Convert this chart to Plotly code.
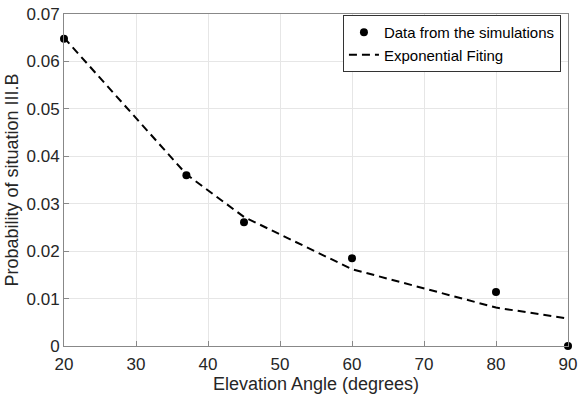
import plotly.graph_objects as go

angles = [20, 37, 45, 60, 80, 90]
prob_sim = [0.0648, 0.0360, 0.0261, 0.0185, 0.0114, 0.0]
prob_fit = [0.0650, 0.0362, 0.0272, 0.0162, 0.0081, 0.0058]

x_ticks = [20, 30, 40, 50, 60, 70, 80, 90]
y_ticks = [0, 0.01, 0.02, 0.03, 0.04, 0.05, 0.06, 0.07]
y_labels = ["0", "0.01", "0.02", "0.03", "0.04", "0.05", "0.06", "0.07"]

font_family = "Liberation Sans, Arial, sans-serif"

fig = go.Figure()
fig.add_trace(go.Scatter(
    x=angles, y=prob_sim, mode="markers", name="Data from the simulations",
    marker=dict(color="black", size=8), cliponaxis=False))
fig.add_trace(go.Scatter(
    x=angles, y=prob_fit, mode="lines", name="Exponential Fiting",
    line=dict(color="black", width=2, dash="8px,5px")))

axis_common = dict(
    showline=True, linecolor="#888888", linewidth=1, mirror=True,
    showgrid=True, gridcolor="#e6e6e6", gridwidth=1,
    ticks="inside", ticklen=5, tickcolor="#888888",
    tickfont=dict(size=17, color="#262626", family=font_family),
    zeroline=False, automargin=False,
)

fig.update_layout(
    width=579, height=401,
    margin=dict(l=64, r=11, t=14, b=55, autoexpand=False),
    paper_bgcolor="white", plot_bgcolor="white",
    font=dict(family=font_family, color="#262626"),
    xaxis=dict(range=[20, 90], tickvals=x_ticks, ticklabelstandoff=3,
               title=dict(text="Elevation Angle (degrees)", font=dict(size=18), standoff=1),
               **axis_common),
    yaxis=dict(range=[0, 0.07], tickvals=y_ticks, ticktext=y_labels,
               title=dict(text="Probability of situation III.B", font=dict(size=18), standoff=3),
               **axis_common),
    legend=dict(x=0.986, y=0.997, xanchor="right", yanchor="top",
                bgcolor="white", bordercolor="#333333", borderwidth=1,
                font=dict(size=15, color="black"), tracegroupgap=0,
                itemwidth=30),
    showlegend=True,
)

fig.write_html(
    "out.html",
    config={"displayModeBar": False},
    post_script="document.body.style.margin='0';document.body.style.overflow='hidden';",
)
